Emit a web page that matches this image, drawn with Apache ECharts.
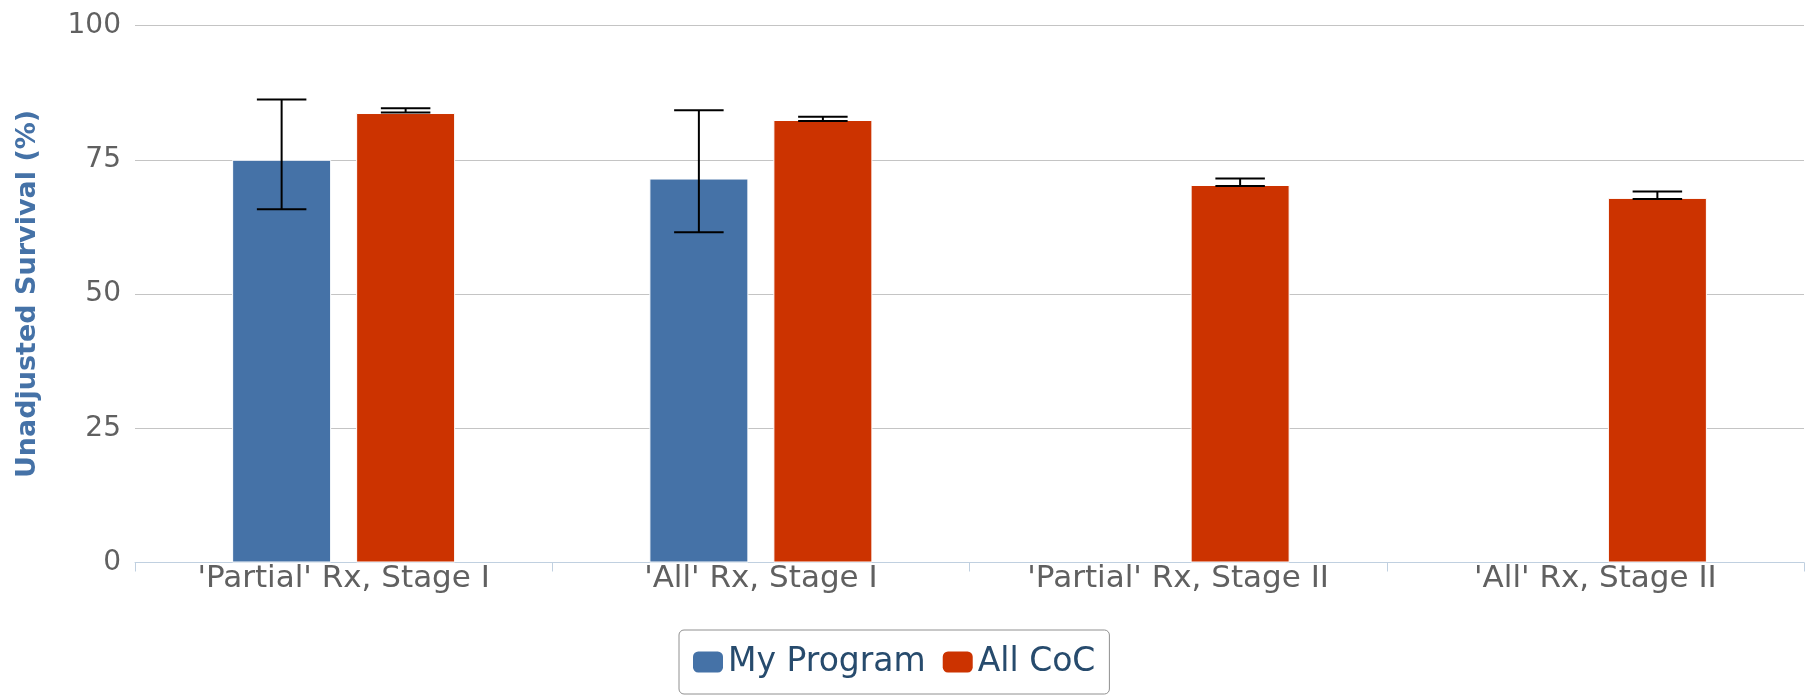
<!DOCTYPE html>
<html>
<head>
<meta charset="utf-8">
<script src="https://cdn.jsdelivr.net/npm/echarts@6/dist/echarts.min.js"></script>
<style>
  html, body { margin: 0; padding: 0; background: #fff; }
  #chart { width: 1810px; height: 695px; }
</style>
</head>
<body>
<div id="chart"></div>
<script>
const categories = ["'Partial' Rx, Stage I", "'All' Rx, Stage I", "'Partial' Rx, Stage II", "'All' Rx, Stage II"];
const myProgram = [75, 71.5, null, null];
const myProgramLow = [65.8, 61.5, null, null];
const myProgramHigh = [86.2, 84.2, null, null];
const allCoc = [83.7, 82.4, 70.3, 67.9];
const allCocLow = [83.8, 82.2, 70.1, 67.7];
const allCocHigh = [84.6, 83.0, 71.5, 69.1];
const yTicks = [0, 25, 50, 75, 100];

const BAR_W = 99;
const BAR_GAP = 25;
const FONT = "'DejaVu Sans', sans-serif";

function errData(low, high) {
  const out = [];
  for (let i = 0; i < categories.length; i++) {
    if (low[i] != null && high[i] != null) out.push([i, low[i], high[i]]);
  }
  return out;
}

function makeErrRender(sign) {
  return function (params, api) {
    const idx = api.value(0);
    const lo = api.coord([idx, api.value(1)]);
    const hi = api.coord([idx, api.value(2)]);
    const off = sign * (BAR_W + BAR_GAP) / 2;
    const x = lo[0] + off;
    const half = BAR_W / 4;
    const style = { stroke: '#000', lineWidth: 2 };
    return {
      type: 'group',
      children: [
        { type: 'line', shape: { x1: x, y1: hi[1], x2: x, y2: lo[1] }, style: style },
        { type: 'line', shape: { x1: x - half, y1: hi[1], x2: x + half, y2: hi[1] }, style: style },
        { type: 'line', shape: { x1: x - half, y1: lo[1], x2: x + half, y2: lo[1] }, style: style }
      ]
    };
  };
}

const chart = echarts.init(document.getElementById('chart'), null, { renderer: 'canvas' });
chart.setOption({
  backgroundColor: '#ffffff',
  animation: false,
  textStyle: { fontFamily: FONT },
  grid: { left: 135, right: 6, top: 25.5, bottom: 132.5, containLabel: false },
  legend: {
    data: ['My Program', 'All CoC'],
    left: 679,
    top: 630,
    padding: [13, 14, 13, 14],
    itemWidth: 30,
    itemHeight: 21,
    itemGap: 17,
    borderColor: '#909090',
    borderWidth: 1,
    borderRadius: 5,
    textStyle: { fontFamily: FONT, fontSize: 33, color: '#274b6d', lineHeight: 38, padding: [0, 0, 0, 0] },
    itemStyle: { borderWidth: 0 },
    icon: 'roundRect'
  },
  xAxis: {
    type: 'category',
    data: categories,
    axisLine: { lineStyle: { color: '#C0D0E0', width: 1 } },
    axisTick: { show: true, length: 9, lineStyle: { color: '#C0D0E0' } },
    axisLabel: { color: '#606060', fontSize: 31, fontFamily: FONT, margin: 1, interval: 0 },
    splitLine: { show: false }
  },
  yAxis: {
    type: 'value',
    min: 0,
    max: 100,
    interval: 25,
    name: 'Unadjusted Survival (%)',
    nameLocation: 'middle',
    nameGap: 94,
    nameTextStyle: { color: '#4572A7', fontWeight: 'bold', fontSize: 27, fontFamily: FONT },
    axisLine: { show: false },
    axisTick: { show: false },
    axisLabel: {
      color: '#606060', fontSize: 28, fontFamily: FONT, margin: 14,
      padding: [0, 0, 8, 0],
      formatter: function (v) { return yTicks.indexOf(v) >= 0 ? String(v) : ''; }
    },
    splitLine: { lineStyle: { color: '#C4C4C4', width: 1.2 } }
  },
  series: [
    {
      name: 'My Program',
      type: 'bar',
      data: myProgram.map(v => v == null ? '-' : v),
      barWidth: BAR_W,
      barGap: (BAR_GAP / BAR_W * 100) + '%',
      itemStyle: { color: '#4572A7', borderColor: '#ffffff', borderWidth: 1 }
    },
    {
      name: 'All CoC',
      type: 'bar',
      data: allCoc,
      barWidth: BAR_W,
      barGap: (BAR_GAP / BAR_W * 100) + '%',
      itemStyle: { color: '#CC3300', borderColor: '#ffffff', borderWidth: 1 }
    },
    {
      name: 'My Program Error',
      type: 'custom',
      renderItem: makeErrRender(-1),
      data: errData(myProgramLow, myProgramHigh),
      encode: { x: 0, y: [1, 2] },
      z: 10,
      silent: true
    },
    {
      name: 'All CoC Error',
      type: 'custom',
      renderItem: makeErrRender(1),
      data: errData(allCocLow, allCocHigh),
      encode: { x: 0, y: [1, 2] },
      z: 10,
      silent: true
    }
  ]
});
</script>
</body>
</html>
